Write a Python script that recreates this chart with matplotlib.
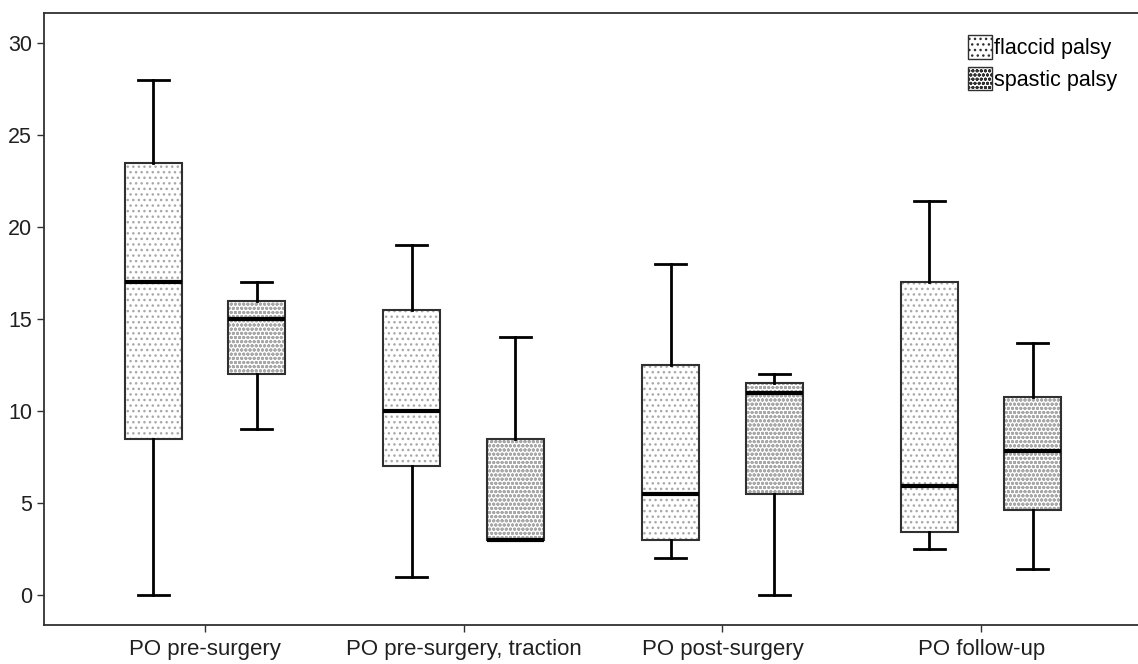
import matplotlib
matplotlib.use("Agg")
import matplotlib.pyplot as plt
from matplotlib.patches import Patch

plt.rcParams['font.family'] = ['Liberation Sans', 'DejaVu Sans']
plt.rcParams['hatch.linewidth'] = 1.0

categories = ["PO pre-surgery", "PO pre-surgery, traction", "PO post-surgery", "PO follow-up"]
series_names = ["flaccid palsy", "spastic palsy"]

flaccid_low = [0, 1, 2, 2.5]
flaccid_q1 = [8.5, 7, 3, 3.4]
flaccid_med = [17, 10, 5.5, 5.9]
flaccid_q3 = [23.5, 15.5, 12.5, 17]
flaccid_high = [28, 19, 18, 21.4]

spastic_low = [9, 3, 0, 1.4]
spastic_q1 = [12, 3, 5.5, 4.6]
spastic_med = [15, 3, 11, 7.8]
spastic_q3 = [16, 8.5, 11.5, 10.75]
spastic_high = [17, 14, 12, 13.7]

yticks = [0, 5, 10, 15, 20, 25, 30]

fig = plt.figure(figsize=(11.38, 6.64), dpi=100)
ax = fig.add_axes([44/1138, 1-625/664, 1-44/1138, (625-13)/664])

def stats(lo, q1, med, q3, hi):
    return [dict(whislo=a, q1=b, med=c, q3=d, whishi=e, fliers=[])
            for a, b, c, d, e in zip(lo, q1, med, q3, hi)]

groups = [
    (stats(flaccid_low, flaccid_q1, flaccid_med, flaccid_q3, flaccid_high), -0.2, '...', '#a8a8a8'),
    (stats(spastic_low, spastic_q1, spastic_med, spastic_q3, spastic_high), 0.2, 'oooo', '#a8a8a8'),
]
for st, off, hatch, hc in groups:
    pos = [i + off for i in range(len(categories))]
    bp = ax.bxp(st, positions=pos, widths=0.22, patch_artist=True, showfliers=False,
                boxprops=dict(facecolor='white', edgecolor='#303030', linewidth=1.5),
                medianprops=dict(color='black', linewidth=3),
                whiskerprops=dict(color='black', linewidth=2),
                capprops=dict(color='black', linewidth=2),
                capwidths=0.12, manage_ticks=False)
    for b in bp['boxes']:
        b.set_hatch(hatch)
        b._hatch_color = matplotlib.colors.to_rgba(hc)

ax.set_xlim(-0.622, 3.606)
ax.set_ylim(-1.63, 31.63)
ax.set_xticks(range(len(categories)))
ax.set_xticklabels(categories)
ax.set_yticks(yticks)
ax.tick_params(axis='both', labelsize=15.5, color='#303030', length=5, width=1, labelcolor='#202020')
ax.tick_params(axis='x', labelsize=16, pad=5)
for s in ['left', 'bottom', 'top']:
    ax.spines[s].set_color('#303030')
    ax.spines[s].set_linewidth(1.3)
ax.spines['right'].set_visible(False)

handles = [Patch(facecolor='white', edgecolor='#303030', hatch='...', label=series_names[0]),
           Patch(facecolor='white', edgecolor='#303030', hatch='oooo', label=series_names[1])]
leg = ax.legend(handles=handles, loc='upper right', bbox_to_anchor=(0.993, 0.985), frameon=False,
                fontsize=15.5, handlelength=1.1, handleheight=1.3, handletextpad=0.1,
                labelspacing=0.35, borderaxespad=0.2)

fig.savefig("out.png", dpi=100)
